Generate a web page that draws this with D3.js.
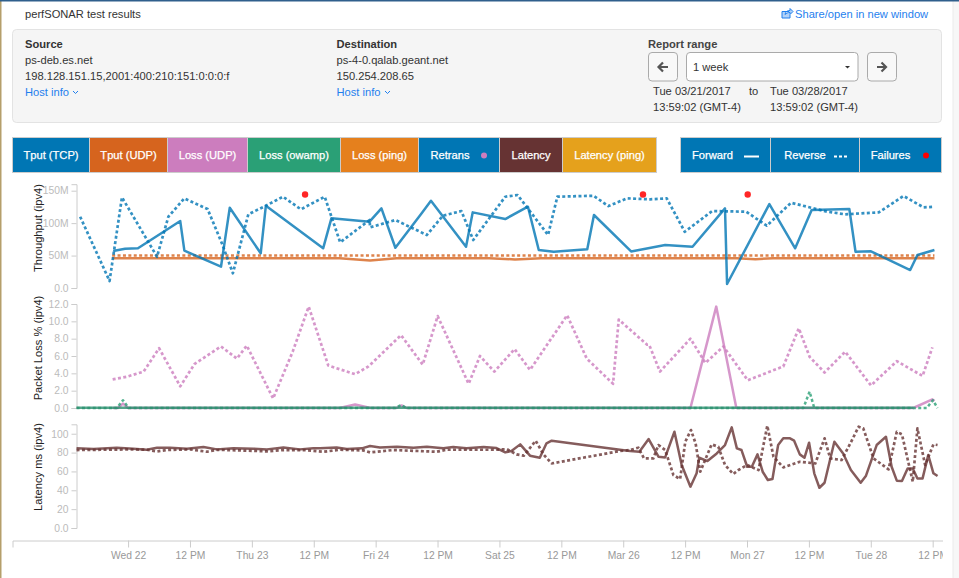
<!DOCTYPE html>
<html><head><meta charset="utf-8">
<style>html,body{margin:0;padding:0;background:#fff;overflow:hidden}svg{display:block;font-family:"Liberation Sans",Arial,sans-serif}</style>
<script src="https://cdn.jsdelivr.net/npm/d3@7"></script></head><body>
<script>
// Times are hours after Wed 22 Mar 2017 00:00
const tcpFwdT=[-2.9,-0.6,1.9,6.8,10.1,10.9,18.0,19.7,25.7,26.7,37.8,39.4,46.8,49.1,51.8,56.9,58.7,65.5,66.8,73.1,77.5,79.6,82.5,89.0,90.3,97.5,104.1,109.4,115.7,116.1,124.3,129.3,132.5,139.8,141.0,144.0,151.6,153.0,156.3];
const tcpFwdV=[57,60.6,61.2,86.3,103.2,57.5,32.8,123.7,53.5,126.8,61.2,107.4,102.2,122.8,62.1,115.1,134.5,63.6,116.6,106.3,125.3,58.6,55.9,59.6,112.5,56.4,66.3,63.6,122.8,6.2,129.4,61.2,120.2,121.7,55.9,56.5,27.7,50.8,58.6];
const tcpRevT=[-9.3,-3.6,-1.2,5.6,7.8,10.9,15.4,18.3,20.3,23.3,26.7,30.0,33.5,38.1,41.1,46.8,46.9,51.8,57.9,61.0,64.6,66.9,73.1,75.5,81.4,83.2,90.2,93.1,96.7,101.2,104.4,107.9,113.2,119.8,123.8,128.5,135.5,139.0,145.5,150.3,154.2,156.3];
const tcpRevV=[109.9,10.8,139.8,48.2,109.9,138.2,121.7,66.3,22.7,113.6,126.8,140.7,121.3,140.7,70.4,104.8,93.5,104.8,81.7,111.4,118.6,74,140.7,143.3,81.7,140.7,142.2,126.3,138.2,136.7,138.2,86.7,118.6,117.6,96,131.4,117.6,113.6,116.6,141.8,124.3,125.3];
const udpFwdT=[-3.1,41,46.9,52,70,75,80,118,121.6,125,156.3];
const udpFwdV=[46,46,42.5,46,46,44,46,46,44.5,46,46];
const udpRevT=[-3.1,156.3];
const udpRevV=[50,50];
const failureT=[34.3,99.8,120.1];
const lossRevT=[-3,-0.3,3,6,10.1,12.9,18,21.1,23,28.1,31.9,35,38.8,44,46.6,52.9,57.1,60,66,68.2,71,74.9,77.9,85.1,88.9,94,95.1,100.6,101,103.1,109,111.9,115.4,120.1,127,130,132.1,135,139,144,149,154,155.9];
const lossRevV=[3.3,3.6,4.2,6.9,2.5,5.1,7.1,5.7,7.2,1.1,6.5,11.7,4.9,3.9,4.8,8.4,5,10.6,2.8,6,4.2,6.8,4.4,10.7,5.7,2.8,10.2,7.3,7.3,4.2,8,5.2,7.1,3.2,4.8,9.2,5.9,4.1,6.5,2.6,5.4,3.7,7];
const lossFwdT=[-3,-2,-1,0,41,44,47,52,53,54,109,114,117.9,152.2,155.9,156.3];
const lossFwdV=[0,0,0.5,0,0,0.4,0,0,0.3,0,0,11.7,0,0,1,0.8];
const owampFwdT=[-10,152.2];
const owampFwdV=[0.02,0.02];
const owampRevT=[-10,-2.2,-1,0.1,51.8,52.9,54,130.9,132.1,133,154.8,156,156.9];
const owampRevV=[0,0,0.9,0,0,0.35,0,0,1.9,0,0,0.9,0];
const latFwdT=[-10,-6.7,-2.2,1,3.6,5.6,8.1,11.4,14.6,17.2,20.4,24.3,26.9,30.1,33.3,35.9,37.2,40.4,42.4,45.3,46.9,48.8,52.1,55.3,57.9,61.1,63,65.6,68.9,71.4,73.1,74.3,76,77.9,79.8,81.1,82.1,95.7,97.3,99.1,100.9,102.8,104.1,105.9,107.3,109,110.2,110.7,112.3,114.1,115.7,117,118,118.9,120,120.9,122,123,124,124.9,126,127,128.3,129.1,130.2,131.1,132,133,134,135,136.9,138.6,140.1,142,143,145.1,146.9,148,149,150,151.1,152.1,153,154,155.1,156.1,156.9];
const latFwdV=[84.5,83.7,85.2,84.1,83,85.2,85.2,84.1,85.9,83.4,84.5,84.1,83.4,85.5,83.4,84.5,84.5,85.5,83.7,84.5,87,85.5,86.2,85.2,86.2,84.5,85.9,84.5,85.9,84.8,80.2,81.6,88.7,76.7,74.5,89.8,92.6,82.7,81.6,80.9,94.3,75.6,74.9,102.1,66.8,43.8,58,74.5,71,79.1,88,106.7,84.5,82.7,65,65,78.1,59.7,50.9,51.9,88,95.1,95.1,92.6,78.1,74.5,90.5,58,42.7,48,91.5,79.1,61.5,48,55.1,88,96.8,65,50.2,49.8,63.2,63.2,52.6,52.6,77.4,58,55.1];
const latRevT=[-10,-5.4,1,3.6,5.6,7.5,12,15.3,17.2,21.7,26.9,30.1,34,37.9,41.1,45.6,46.9,51.4,59.8,61.7,71.4,73.4,75.3,76.7,79,80.5,82.1,95.3,97.3,98.9,100,101.8,102.8,104.1,105.7,107,108,109.1,110,110.9,113.1,114.4,115.7,117.3,118.3,120,122.2,123.9,125.1,127,130.2,133.2,135,136.1,138.3,140,141.6,142.5,144.5,147.4,149,150,152.1,153,154.5,156.1,156.9];
const latRevV=[82.7,83,83.4,83,81.3,82.7,83.4,80.9,83,82.3,81.3,82.7,82.7,80.9,83,82.3,80.2,82.7,80.9,83,83,83.7,78.1,76.7,92.6,78.1,68.5,81.6,82.7,85.2,73.8,73.8,88,82.7,56.2,51.9,91.5,103.9,89.8,59.7,88.7,86.2,66.8,57.2,61.5,66.8,61.5,108.5,75.6,64.3,70.3,68.5,95.1,73.8,72.1,89.8,107.4,105.7,73.8,62.2,102.1,99.3,49.1,105.7,66.8,88.7,88];
const xTickHours=[0,12,24,36,48,60,72,84,96,108,120,132,144,156];
const xTickLabels=["Wed 22","12 PM","Thu 23","12 PM","Fri 24","12 PM","Sat 25","12 PM","Mar 26","12 PM","Mon 27","12 PM","Tue 28","12 PM"];
const tputTicks=[0,50,100,150];
const tputLabels=["0.0","50M","100M","150M"];
const lossTicks=[0,2,4,6,8,10,12];
const latTicks=[0,20,40,60,80,100];
const typeLabels=["Tput (TCP)","Tput (UDP)","Loss (UDP)","Loss (owamp)","Loss (ping)","Retrans","Latency","Latency (ping)"];
const typeColors=["#0076b4","#d6641e","#cc7dbe","#2aa076","#e5801d","#0076b4","#633","#e5a11c"];
const typeEdges=[12.5,89.5,167.5,247.5,340.5,418.5,499.5,562.5,656.5];
const dirLabels=["Forward","Reverse","Failures"];
const dirEdges=[680.5,770.5,859.5,941.5];

const W=959,H=578,base=Date.UTC(2017,2,22);
const toDate=h=>new Date(base+h*36e5);
const x=d3.scaleUtc().domain([toDate(-10.01),toDate(156)]).range([76.5,932.9]);
const yT=d3.scaleLinear().domain([0,160]).range([288,184.2]);
const yL=d3.scaleLinear().domain([0,12]).range([408,304]);
const yM=d3.scaleLinear().domain([0,110]).range([528,424.3]);
const svg=d3.select("body").append("svg").attr("width",W).attr("height",H);
const defs=svg.append("defs");
defs.append("clipPath").attr("id","plot").append("rect").attr("x",12).attr("y",170).attr("width",931).attr("height",408);

// page frame
svg.append("rect").attr("x",953).attr("width",6).attr("height",H).attr("fill","#f7f7f7");
svg.append("rect").attr("x",952.5).attr("width",1).attr("height",H).attr("fill","#ececec");
svg.append("rect").attr("width",1.5).attr("height",H).attr("fill","#b59f6b");
svg.append("rect").attr("width",W).attr("height",1.5).attr("fill","#2f5f8c");

const txt=(s,px,py,o={})=>svg.append("text").text(s).attr("x",px).attr("y",py)
  .attr("font-size",o.size||11.15).attr("fill",o.fill||"#333").attr("font-weight",o.bold?"bold":null).attr("text-anchor",o.anchor||"start");
txt("perfSONAR test results",25,18);
txt("Share/open in new window",795,18,{fill:"#1f7fee"});
svg.append("path").attr("d","M789 11.5h-7v6.5h8v-3M785 14.5c.5-3 2.5-4 5-4v-2l3 3-3 3v-2c-2 0-3.7.6-5 2z").attr("fill","#1f7fee").attr("fill-opacity",.35).attr("stroke","#1f7fee").attr("stroke-width",1);

svg.append("rect").attr("x",12.5).attr("y",29.5).attr("width",929).attr("height",93).attr("rx",4).attr("fill","#f5f5f5").attr("stroke","#e3e3e3");
txt("Source",25,48,{bold:true});
txt("ps-deb.es.net",25,64);
txt("198.128.151.15,2001:400:210:151:0:0:0:f",25,80);
txt("Host info",25,96,{fill:"#1f7fee"});
txt("Destination",336.5,48,{bold:true});
txt("ps-4-0.qalab.geant.net",336.5,64);
txt("150.254.208.65",336.5,80);
txt("Host info",336.5,96,{fill:"#1f7fee"});
[73,385].forEach(c=>svg.append("path").attr("d",`M${c} 91l2.5 2.5 2.5-2.5`).attr("fill","none").attr("stroke","#1f7fee"));
txt("Report range",648,48,{bold:true,fill:"#444"});
[[648.5,29],[867.5,29]].forEach(b=>svg.append("rect").attr("x",b[0]).attr("y",52.5).attr("width",b[1]).attr("height",28.5).attr("rx",3.5).attr("fill","#f8f8f8").attr("stroke","#aaa"));
svg.append("rect").attr("x",686.5).attr("y",52.5).attr("width",171.5).attr("height",28.5).attr("rx",3.5).attr("fill","#fff").attr("stroke","#aaa");
svg.append("path").attr("d","M668 67h-9M663 62.5l-4.5 4.5 4.5 4.5").attr("fill","none").attr("stroke","#555").attr("stroke-width",2.2);
svg.append("path").attr("d","M877 67h9M881.5 62.5l4.5 4.5-4.5 4.5").attr("fill","none").attr("stroke","#555").attr("stroke-width",2.2);
svg.append("path").attr("d","M845 66h5l-2.5 2.5z").attr("fill","#333");
txt("1 week",693,71);
txt("Tue 03/21/2017",653,95);
txt("to",749,95);
txt("Tue 03/28/2017",770,95);
txt("13:59:02 (GMT-4)",653,111);
txt("13:59:02 (GMT-4)",770,111);

// toggle buttons
function buttons(labels,edges,colors,shift){
  labels.forEach((l,i)=>{
    svg.append("rect").attr("x",edges[i]).attr("y",137.5).attr("width",edges[i+1]-edges[i]).attr("height",35)
      .attr("fill",colors[i]).attr("stroke","#ccc").attr("stroke-width",1);
    svg.append("text").text(l).attr("x",(edges[i]+edges[i+1])/2+(shift[i]||0)).attr("y",159).attr("text-anchor","middle")
      .attr("font-size",11.15).attr("fill","#fff").attr("stroke","#fff").attr("stroke-width",.25);
  });
}
buttons(typeLabels,typeEdges,typeColors,[0,0,0,0,0,-9,0,0]);
buttons(dirLabels,dirEdges,["#0076b4","#0076b4","#0076b4"],[-13,-10,-10]);
svg.append("circle").attr("cx",484).attr("cy",155.5).attr("r",3).attr("fill","#cc7dbe");
svg.append("line").attr("x1",744).attr("x2",759).attr("y1",156.5).attr("y2",156.5).attr("stroke","#fff").attr("stroke-width",2);
svg.append("line").attr("x1",834).attr("x2",847).attr("y1",156.5).attr("y2",156.5).attr("stroke","#fff").attr("stroke-width",2).attr("stroke-dasharray","3 2");
svg.append("circle").attr("cx",926).attr("cy",155.5).attr("r",3).attr("fill","#f00");

// axes
function yAxis(scale,ticks,fmt,title,cy){
  const g=svg.append("g").attr("transform","translate(76.5,0)").call(d3.axisLeft(scale).tickValues(ticks).tickFormat(fmt).tickSize(5));
  g.selectAll("path,line").attr("stroke","#ccc").attr("stroke-width",1);
  g.selectAll("text").attr("fill","#bbb").attr("font-size",10.3).attr("font-family","Liberation Sans");
  svg.append("text").text(title).attr("transform",`translate(42,${cy}) rotate(-90)`).attr("text-anchor","middle").attr("font-size",11.15).attr("fill","#222");
}
yAxis(yT,tputTicks,(d,i)=>tputLabels[i],"Throughput (ipv4)",228);
yAxis(yL,lossTicks,d3.format(".1f"),"Packet Loss % (ipv4)",348);
yAxis(yM,latTicks,d=>d===0?"0.0":d,"Latency ms (ipv4)",467);

const xg=svg.append("g").attr("clip-path","url(#plot)");
xg.append("g").attr("transform","translate(0,540.5)")
  .call(d3.axisBottom(x.copy().domain([toDate(-22.41),toDate(158)]).range([12.5,943])).tickValues(xTickHours.map(toDate)).tickFormat((d,i)=>xTickLabels[i]).tickSize(7).tickPadding(4))
  .call(g=>{g.selectAll("path,line").attr("stroke","#ccc");g.selectAll("text").attr("fill","#999").attr("font-size",10.3).attr("font-family","Liberation Sans");});

// series
const plot=svg.append("g").attr("clip-path","url(#plot)");
function series(T,V,y,color,dashed,w){
  const pts=T.map((t,i)=>[toDate(t),V[i]]);
  plot.append("path").datum(pts).attr("fill","none").attr("stroke",color).attr("stroke-opacity",.8)
    .attr("stroke-width",w||2.5).attr("stroke-dasharray",dashed?"3 2.4":null).attr("stroke-linejoin","round")
    .attr("d",d3.line().x(d=>x(d[0])).y(d=>y(d[1])));
}
series(udpFwdT,udpFwdV,yT,"#d6641e",false);
series(udpRevT,udpRevV,yT,"#d6641e",true);
series(tcpFwdT,tcpFwdV,yT,"#0076b4",false);
series(tcpRevT,tcpRevV,yT,"#0076b4",true,2.7);
plot.selectAll("circle.f").data(failureT).join("circle").attr("class","f").attr("cx",d=>x(toDate(d))).attr("cy",194.5).attr("r",3.2).attr("fill","#f00").attr("fill-opacity",.85);
series(lossRevT,lossRevV,yL,"#cc7dbe",true,2.7);
series(lossFwdT,lossFwdV,yL,"#cc7dbe",false);
series(owampRevT,owampRevV,yL,"#2aa076",true);
series(owampFwdT,owampFwdV,yL,"#2a8f6e",false);
series(latRevT,latRevV,yM,"#633",true,2.7);
series(latFwdT,latFwdV,yM,"#633",false);
</script></body></html>
